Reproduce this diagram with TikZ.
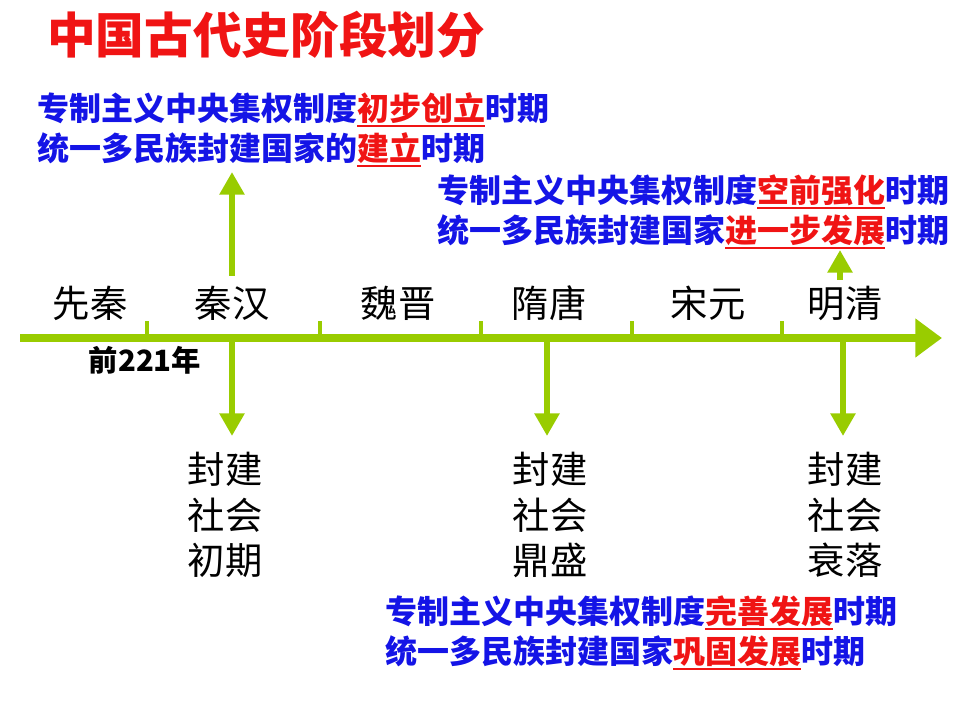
\documentclass[tikz,border=0pt]{standalone}
\usepackage{fontspec}
\setmainfont{Noto Sans CJK SC}
\usepackage{xcolor}
\usetikzlibrary{arrows.meta,positioning}
\definecolor{axisgreen}{RGB}{153,204,0}
\definecolor{textblue}{RGB}{20,20,230}
\definecolor{hired}{RGB}{240,20,20}
\newcommand{\hl}[1]{\textcolor{hired}{\setbox0\hbox{#1}\rlap{\rule[-4.5pt]{\wd0}{1.3pt}}\box0}}

\begin{document}
\begin{tikzpicture}[ % GLOBAL CFG
    x=0.75pt, y=-0.75pt,
    % Styles
    title/.style={% For the heading
        anchor=west,
        inner sep=0pt,
        text=hired,
        font=\fontsize{36.5}{40}\selectfont\bfseries,
        },
    period/.style={% For the dynasty names
        inner sep=0pt,
        font=\fontsize{28}{32}\selectfont,
        },
    stage/.style={% For the stacked stage labels
        inner sep=0pt,
        align=center,
        font=\fontsize{28}{34}\selectfont,
        },
    remark/.style={% For the blue remarks
        anchor=west,
        inner sep=0pt,
        align=left,
        text=textblue,
        font=\fontsize{24}{30}\selectfont\bfseries,
        },
    axis/.style={% The time line
        line width=5.5pt,
        draw=axisgreen,
        -{Triangle[width=28pt,length=20pt]},
        },
    tick/.style={% Small marks on the time line
        line width=3pt,
        draw=axisgreen,
        },
    pointer/.style={% Arrows to the labels
        line width=5pt,
        draw=axisgreen,
        -{Triangle[width=18pt,length=17pt]},
        },
    ]

    \useasboundingbox (0,0) rectangle (960,720);

    \node [title] (head) at (47,35) {中国古代史阶段划分};

    % time line
    \coordinate (tl0) at (20,338);
    \coordinate (tl1) at (942,338);
    \draw [axis] (tl0) -- (tl1);
    \foreach \x [count=\i] in {147,320,481,632,782} {
        \coordinate (tb\i) at (\x,338);
        \coordinate (tt\i) at (\x,321);
        \draw [tick] (tb\i) -- (tt\i);
    }

    % dynasties
    \node [period] (xianqin) at (90,303) {先秦};
    \node [period] (qinhan)  at (232,303) {秦汉};
    \node [period] (weijin)  at (398,303) {魏晋};
    \node [period] (suitang) at (549,303) {隋唐};
    \node [period] (songyuan) at (708,303) {宋元};
    \node [period] (mingqing) at (845,303) {明清};
    \node [inner sep=0pt, font=\fontsize{22}{24}\selectfont\bfseries] (year) at (145,360) {前221年};

    % remarks
    \node [remark] (rm1) at (37,130) {专制主义中央集权制度\hl{初步创立}时期\\统一多民族封建国家的\hl{建立}时期};
    \node [remark] (rm2) at (437,212) {专制主义中央集权制度\hl{空前强化}时期\\统一多民族封建国家\hl{进一步发展}时期};
    \node [remark] (rm3) at (385,633) {专制主义中央集权制度\hl{完善发展}时期\\统一多民族封建国家\hl{巩固发展}时期};

    % stages
    \node [stage] (st1) at (225,515) {封建\\社会\\初期};
    \node [stage] (st2) at (550,515) {封建\\社会\\鼎盛};
    \node [stage] (st3) at (845,515) {封建\\社会\\衰落};

    % pointers
    \coordinate (up1) at (232,276);
    \coordinate (up1t) at (232,172);
    \draw [pointer] (up1) -- (up1t);
    \coordinate (up2) at (840,280);
    \coordinate (up2t) at (840,250);
    \draw [pointer] (up2) -- (up2t);
    \foreach \x/\n in {232/1,547/2,843/3} {
        \coordinate (dn\n) at (\x,338);
        \coordinate (dn\n t) at (\x,436);
        \draw [pointer] (dn\n) -- (dn\n t);
    }
\end{tikzpicture}
\end{document}
